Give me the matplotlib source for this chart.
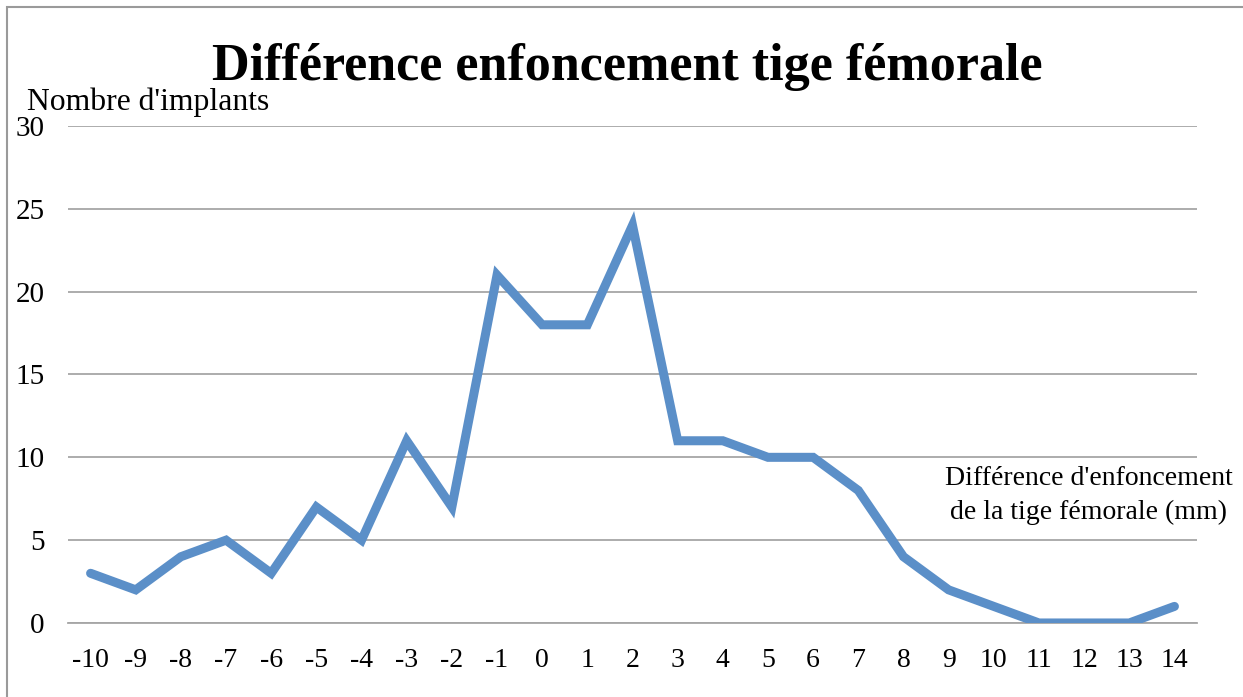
import matplotlib.pyplot as plt
from matplotlib.patches import Rectangle

# différence d'enfoncement (mm) et nombre d'implants
diff_mm = [-10, -9, -8, -7, -6, -5, -4, -3, -2, -1, 0, 1, 2,
           3, 4, 5, 6, 7, 8, 9, 10, 11, 12, 13, 14]
nb_implants = [3, 2, 4, 5, 3, 7, 5, 11, 7, 21, 18, 18, 24,
               11, 11, 10, 10, 8, 4, 2, 1, 0, 0, 0, 1]
y_ticks = [0, 5, 10, 15, 20, 25, 30]

plt.rcParams['font.family'] = ['Liberation Serif', 'DejaVu Serif']

fig = plt.figure(figsize=(12.43, 6.97), dpi=100)
ax = fig.add_axes([0.0547, 0.1062, 0.9083, 0.713])

ax.plot(diff_mm, nb_implants, color='#5b8fc8', lw=6.5,
        solid_capstyle='round', solid_joinstyle='miter', zorder=3)

ax.set_xlim(diff_mm[0] - 0.5, diff_mm[-1] + 0.5)
ax.set_ylim(0, 30)
ax.set_xticks(diff_mm)
ax.set_xticklabels([str(v) for v in diff_mm])
ax.set_yticks(y_ticks)
ax.yaxis.grid(True, color='#a6a6a6', lw=1.3)
ax.set_axisbelow(True)
for s in ['top', 'right', 'left']:
    ax.spines[s].set_visible(False)
ax.spines['bottom'].set_color('#a6a6a6')
ax.spines['bottom'].set_linewidth(1.3)
ax.tick_params(axis='both', length=0, labelsize=20)
ax.tick_params(axis='y', labelsize=21, pad=17)
ax.tick_params(axis='x', pad=18)

fig.text(0.5045, 0.885, "Différence enfoncement tige fémorale",
         ha='center', va='baseline', fontsize=37.5, fontweight='bold')
fig.text(0.022, 0.853, "Nombre d'implants", ha='left', va='center',
         fontsize=22.8)
fig.text(0.876, 0.289, "Différence d'enfoncement\nde la tige fémorale (mm)",
         ha='center', va='center', fontsize=20, linespacing=1.45)

# cadre du graphique
fig.add_artist(Rectangle((7 / 1243, -0.1), 1.2, 1.1 - 7 / 697,
                         transform=fig.transFigure, fill=False,
                         edgecolor='#9a9a9a', lw=1.5))

fig.savefig('out.png', dpi=100)
